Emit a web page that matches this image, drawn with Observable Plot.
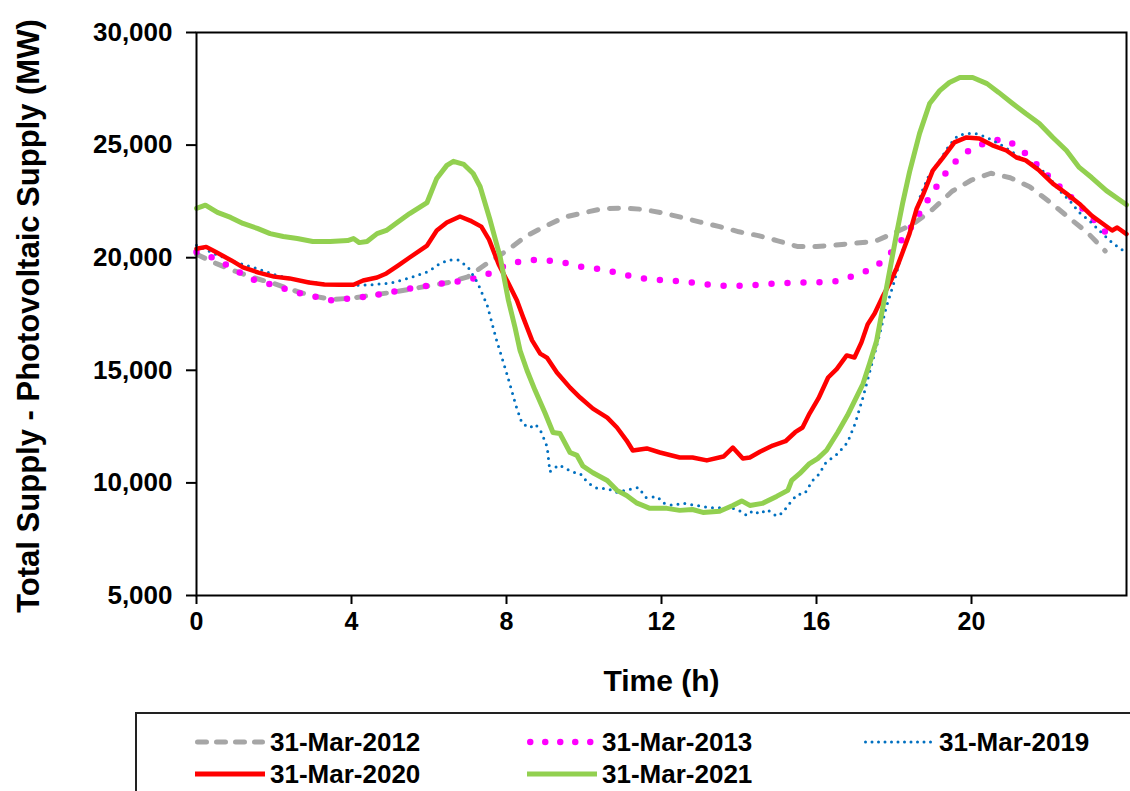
<!DOCTYPE html>
<html>
<head>
<meta charset="utf-8">
<script src="https://cdn.jsdelivr.net/npm/d3@7"></script>
<script src="https://cdn.jsdelivr.net/npm/@observablehq/plot@0.6"></script>
<style>
  html, body { margin: 0; padding: 0; background: #fff; }
  #wrap { position: relative; width: 1130px; height: 791px; overflow: hidden; font-family: "Liberation Sans", Arial, sans-serif; }
  #chart { position: absolute; left: 0; top: 0; }
  #legend { position: absolute; left: 135px; top: 712px; width: 1100px; height: 120px; border: 2px solid #222; box-sizing: border-box; }
  .item { position: absolute; display: flex; align-items: center; height: 30px; }
  .item svg { display: block; }
  .item span { font-size: 26px; font-weight: bold; margin-left: 4px; line-height: 1; color: #000; }
</style>
</head>
<body>
<div id="wrap">
  <div id="chart"></div>
  <div id="legend"></div>
</div>
<script>
// ---- Data (hours, MW) ----
const seriesNames = ["31-Mar-2012", "31-Mar-2013", "31-Mar-2019", "31-Mar-2020", "31-Mar-2021"];
const seriesColors = ["#a6a6a6", "#ff00ff", "#0070c0", "#ff0000", "#92d050"];
const xTicks = [0, 4, 8, 12, 16, 20];
const yTicks = [5000, 10000, 15000, 20000, 25000, 30000];

const hours2012 = [0,0.5,1,1.5,2,2.5,3,3.5,4,4.5,5,5.5,6,6.5,7,7.5,8,8.5,9,9.5,10,10.5,11,11.5,12,12.5,13,13.5,14,14.5,15,15.5,16,16.5,17,17.5,18,18.5,19,19.5,20,20.5,21,21.5,22,22.5,23,23.45];
const mw2012 = [20150,19750,19400,19100,18850,18550,18300,18150,18200,18330,18450,18600,18750,18900,19150,19750,20300,20950,21400,21800,22000,22180,22200,22150,22000,21800,21580,21380,21150,20980,20750,20500,20500,20560,20650,20720,21100,21500,22150,22950,23450,23750,23550,23150,22500,21800,21100,20300];

const hours2013 = [0,0.5,1,1.5,2,2.5,3,3.5,4,4.5,5,5.5,6,6.5,7,7.5,8,8.5,9,9.5,10,10.5,11,11.5,12,12.5,13,13.5,14,14.5,15,15.5,16,16.5,17,17.5,18,18.25,18.5,18.75,19,19.25,19.5,19.75,20,20.5,20.9,21.25,21.5,22,22.5,23,23.45];
const mw2013 = [20250,19950,19450,19000,18780,18480,18300,18100,18200,18300,18470,18630,18770,18900,19000,19250,19680,19900,19900,19770,19570,19480,19260,19080,19000,18950,18850,18750,18750,18800,18860,18900,18900,18950,19220,19550,20350,20900,21500,22250,22900,23550,24150,24500,24850,25200,25250,24850,24450,23600,22800,21950,21150];

const hours2019 = [0,0.5,1,1.5,2,2.5,3,3.5,4,4.5,5,5.5,6,6.25,6.5,6.75,7,7.25,7.5,7.75,8,8.25,8.4,8.6,8.75,8.9,9.05,9.12,9.35,9.7,9.9,10.1,10.35,10.6,10.85,11.15,11.4,11.6,11.9,12.05,12.3,12.55,12.9,13.25,13.5,13.85,14,14.2,14.36,14.54,14.72,14.97,15.13,15.26,15.5,15.7,15.9,16.06,16.24,16.55,16.8,17,17.2,17.4,17.6,17.8,18,18.2,18.45,18.7,18.9,19.18,19.43,19.65,19.9,20.1,20.4,20.7,21,21.25,21.57,21.93,22.27,22.53,22.78,23.04,23.38,23.63,23.87,24];
const mw2019 = [20550,20150,19800,19550,19250,19050,18900,18800,18770,18800,18870,19100,19400,19700,19900,19900,19600,18900,17900,16300,14900,13400,12650,12450,12600,12250,11600,10500,10800,10480,10420,10000,9750,9750,9580,9700,9800,9350,9380,9100,9000,9100,9000,8900,8900,8870,8780,8550,8770,8620,8820,8520,8680,9000,9480,9530,10110,10380,10900,11300,11800,12650,13800,15100,16400,17800,18900,20200,21350,22850,23650,24320,25000,25430,25520,25520,25340,25070,24760,24450,24180,23740,22980,22540,22010,21650,21070,20670,20360,20300];

const hours2020 = [0,0.25,0.5,0.9,1.2,1.6,2,2.4,2.9,3.3,3.7,4.05,4.3,4.66,4.9,5.2,5.5,5.95,6.2,6.46,6.8,7.06,7.35,7.55,7.8,8.05,8.27,8.43,8.66,8.87,9.05,9.3,9.64,9.9,10.23,10.6,10.85,11.1,11.26,11.62,11.96,12.47,12.8,13.17,13.6,13.84,14.1,14.28,14.54,14.87,15.2,15.45,15.64,15.82,16.05,16.3,16.52,16.78,16.98,17.16,17.32,17.5,17.7,17.9,18.07,18.22,18.4,18.58,18.74,19,19.25,19.56,19.87,20.2,20.54,20.9,21.16,21.4,21.75,22.1,22.45,22.78,23.1,23.38,23.63,23.76,24];
const mw2020 = [20400,20480,20250,19880,19570,19340,19160,19080,18900,18810,18800,18800,18990,19120,19300,19650,20010,20540,21210,21560,21830,21650,21380,20800,19700,18860,18100,17350,16330,15740,15550,14900,14230,13790,13300,12900,12460,11880,11440,11530,11350,11130,11130,11000,11170,11570,11080,11130,11380,11660,11850,12250,12460,13080,13750,14680,15050,15660,15570,16240,17040,17520,18250,18900,19550,20230,21070,22150,22760,23870,24410,25120,25340,25290,24990,24760,24450,24320,23870,23290,22850,22400,21870,21520,21210,21340,21050];

const hours2021 = [0,0.23,0.54,0.88,1.2,1.57,1.9,2.24,2.6,3,3.45,3.9,4.05,4.2,4.4,4.66,4.9,5.18,5.5,5.95,6.2,6.46,6.63,6.9,7.14,7.32,7.58,7.84,8.05,8.22,8.35,8.53,8.74,9,9.2,9.38,9.64,9.82,9.97,10.23,10.6,10.85,11.1,11.37,11.7,12.14,12.47,12.8,13.07,13.5,13.84,14.07,14.28,14.6,14.97,15.26,15.36,15.57,15.82,16.03,16.26,16.55,16.8,17,17.2,17.37,17.55,17.68,17.8,17.94,18.07,18.22,18.4,18.66,18.92,19.18,19.43,19.7,20.03,20.4,20.7,21.06,21.4,21.75,22.1,22.45,22.78,23.1,23.48,24];
const mw2021 = [22190,22330,22010,21790,21520,21300,21070,20940,20850,20720,20720,20760,20850,20670,20720,21070,21210,21560,21960,22450,23520,24100,24280,24140,23740,23150,21650,20000,18100,16900,15880,14990,14100,13080,12240,12190,11350,11220,10750,10450,10110,9670,9440,9100,8870,8870,8780,8820,8690,8740,9000,9200,9000,9090,9400,9670,10110,10420,10860,11080,11450,12250,13000,13700,14400,15300,16300,17500,18600,19900,21100,22400,23800,25520,26850,27420,27780,28000,28000,27730,27340,26850,26400,25960,25340,24760,24010,23560,22980,22350];

// ---- Build tables ----
const toRows = (hs, vs) => hs.map((h, i) => ({h, v: vs[i]}));
const d2012 = toRows(hours2012, mw2012);
const d2013 = toRows(hours2013, mw2013);
const d2019 = toRows(hours2019, mw2019);
const d2020 = toRows(hours2020, mw2020);
const d2021 = toRows(hours2021, mw2021);

const lineStyles = [
  {strokeWidth: 5, strokeDasharray: "9,12", strokeLinecap: "round"},
  {strokeWidth: 6.5, strokeDasharray: "0,16", strokeLinecap: "round"},
  {strokeWidth: 3, strokeDasharray: "0,7", strokeLinecap: "round"},
  {strokeWidth: 4.5, strokeLinecap: "round", strokeLinejoin: "round"},
  {strokeWidth: 5, strokeLinecap: "round", strokeLinejoin: "round"}
];
const tables = [d2012, d2013, d2019, d2020, d2021];

const fmt = d3.format(",");

const chart = Plot.plot({
  width: 1130,
  height: 705,
  marginLeft: 196,
  marginRight: 4,
  marginTop: 32,
  marginBottom: 110,
  style: {fontFamily: "'Liberation Sans', Arial, sans-serif", color: "#000", background: "#fff", overflow: "visible"},
  x: {domain: [0, 24]},
  y: {domain: [5000, 30000]},
  marks: [
    ...tables.map((t, i) => Plot.line(t, {x: "h", y: "v", stroke: seriesColors[i], ...lineStyles[i]})),
    Plot.frame({stroke: "#000", strokeWidth: 2}),
    Plot.axisX({ticks: xTicks, tickSize: 9, tickPadding: 8, tickFormat: d => String(d), fontSize: 25, fontWeight: "bold", strokeWidth: 2, label: null}),
    Plot.axisY({ticks: yTicks, tickSize: 10, tickPadding: 14, tickFormat: fmt, fontSize: 26, fontWeight: "bold", strokeWidth: 2, label: null}),
    Plot.text(["Time (h)"], {frameAnchor: "bottom", dy: 95, fontSize: 30, fontWeight: "bold", fill: "#000"}),
    Plot.text(["Total Supply - Photovoltaic Supply (MW)"], {frameAnchor: "left", textAnchor: "middle", dx: -167, dy: 2, rotate: -90, fontSize: 31, fontWeight: "bold", fill: "#000"})
  ]
});
document.getElementById("chart").appendChild(chart);

// ---- Legend ----
const legend = document.getElementById("legend");
const legendPos = [
  {left: 57, top: 13}, {left: 389, top: 13}, {left: 726, top: 13},
  {left: 57, top: 45}, {left: 389, top: 45}
];
const swatchDash = [
  {w: 5, dash: "9,10", cap: "round"},
  {w: 6.5, dash: "0,15", cap: "round"},
  {w: 3, dash: "0,6.5", cap: "round"},
  {w: 5, dash: null, cap: "butt"},
  {w: 5, dash: null, cap: "butt"}
];
seriesNames.forEach((name, i) => {
  const item = document.createElement("div");
  item.className = "item";
  item.style.left = legendPos[i].left + "px";
  item.style.top = legendPos[i].top + "px";
  const ns = "http://www.w3.org/2000/svg";
  const svg = document.createElementNS(ns, "svg");
  svg.setAttribute("width", 72);
  svg.setAttribute("height", 10);
  const ln = document.createElementNS(ns, "line");
  const s = swatchDash[i];
  const pad = s.cap === "round" ? s.w / 2 : 0;
  ln.setAttribute("x1", 1 + pad);
  ln.setAttribute("x2", 71 - pad);
  ln.setAttribute("y1", 5);
  ln.setAttribute("y2", 5);
  ln.setAttribute("stroke", seriesColors[i]);
  ln.setAttribute("stroke-width", s.w);
  ln.setAttribute("stroke-linecap", s.cap);
  if (s.dash) ln.setAttribute("stroke-dasharray", s.dash);
  svg.appendChild(ln);
  const span = document.createElement("span");
  span.textContent = name;
  item.appendChild(svg);
  item.appendChild(span);
  legend.appendChild(item);
});
</script>
</body>
</html>
